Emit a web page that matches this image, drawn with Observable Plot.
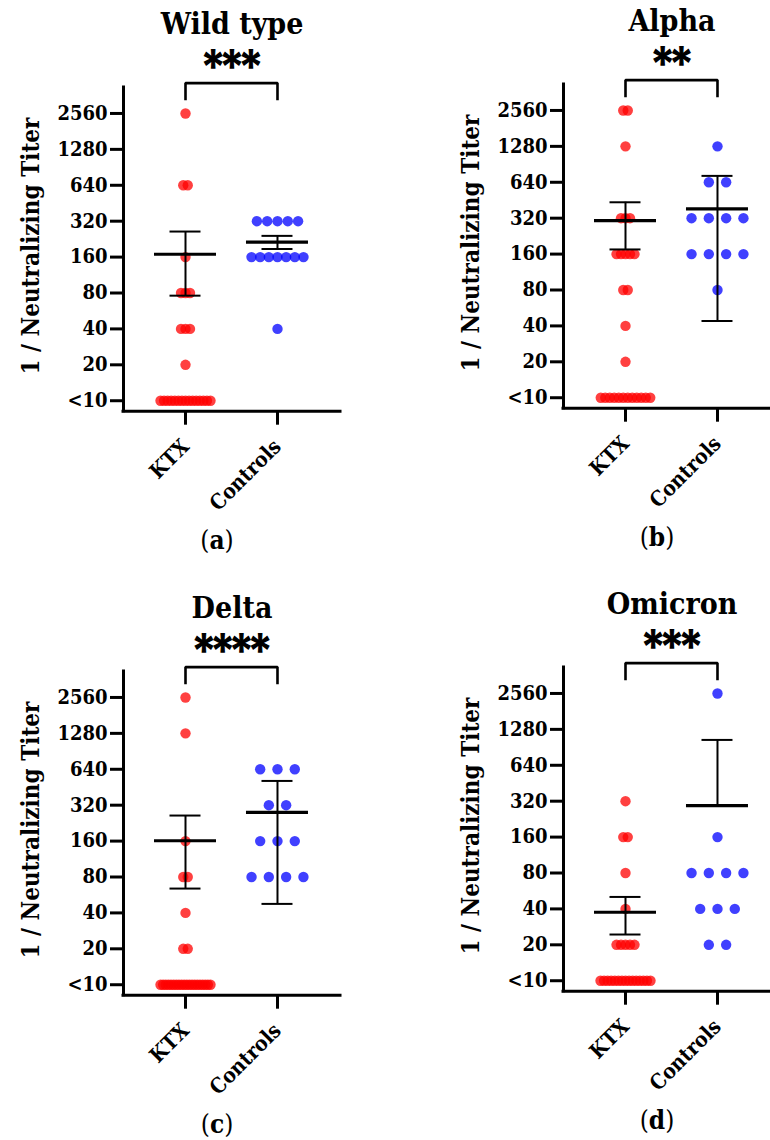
<!DOCTYPE html>
<html>
<head>
<meta charset="utf-8">
<script src="https://cdn.jsdelivr.net/npm/d3@7"></script>
<script src="https://cdn.jsdelivr.net/npm/@observablehq/plot@0.6"></script>
<style>
  html, body { margin: 0; padding: 0; background: #fff; }
  #root { position: relative; width: 770px; height: 1140px; overflow: hidden; background: #fff; color: #000;
          font-family: "DejaVu Serif Condensed", "DejaVu Serif", serif; }
  .panel { position: absolute; width: 385px; height: 560px; }
  .panel svg { position: absolute; left: 0; top: 60px; overflow: visible; }
  .title { position: absolute; left: 232px; top: 9px; transform: translateX(-50%); font-weight: bold;
           font-size: 30px; line-height: 1; white-space: nowrap; }
  .stars { position: absolute; left: 232px; top: 45px; transform: translateX(-50%); font-weight: bold;
           font-size: 40px; line-height: 1; white-space: nowrap; -webkit-text-stroke: 1.3px #000; }
  .ylabel { position: absolute; left: 31px; top: 246px; transform: translate(-50%, -50%) rotate(-90deg);
            font-weight: bold; font-size: 24px; line-height: 1; white-space: nowrap; }
  .letter { position: absolute; left: 217px; top: 540px; transform: translate(-50%, -50%);
            font-size: 26px; line-height: 1; white-space: nowrap; }
  .letter b { font-weight: bold; }
</style>
</head>
<body>
<div id="root"></div>
<script>
// ---------------- data ----------------
const variants = ["Wild type", "Alpha", "Delta", "Omicron"];
const significance = ["***", "**", "****", "***"];
const panelLetters = ["a", "b", "c", "d"];
const groups = ["KTX", "Controls"];
const titerLevels = [10, 20, 40, 80, 160, 320, 640, 1280, 2560];
const titerLabels = ["<10", "20", "40", "80", "160", "320", "640", "1280", "2560"];

// number of subjects at each titer level (same order as titerLevels)
const ktxCountsWild     = [15, 1, 3, 3, 1, 0, 2, 0, 1];
const ctrlCountsWild    = [0, 0, 1, 0, 7, 5, 0, 0, 0];
const ktxCountsAlpha    = [12, 1, 1, 2, 5, 3, 0, 1, 2];
const ctrlCountsAlpha   = [0, 0, 0, 1, 4, 4, 2, 1, 0];
const ktxCountsDelta    = [20, 2, 1, 2, 1, 0, 0, 1, 1];
const ctrlCountsDelta   = [0, 0, 0, 4, 3, 2, 3, 0, 0];
const ktxCountsOmicron  = [15, 5, 1, 1, 2, 1, 0, 0, 0];
const ctrlCountsOmicron = [0, 2, 3, 4, 1, 0, 0, 0, 1];

// mean and error-bar ends as drawn (Wild type, Alpha, Delta, Omicron)
const ktxMean  = [169, 305, 161, 37.5];
const ktxLow   = [76, 175, 64, 24.4];
const ktxHigh  = [262, 435, 262, 50.4];
const ctrlMean = [214, 383, 279, 294];
const ctrlLow  = [187, 44, 47.6, null];
const ctrlHigh = [241, 724, 511, 1044];

// significance bracket (in titer units)
const bracketTop = 4600;
const bracketFoot = 3300;

// ---------------- layout ----------------
const FONT = '"DejaVu Serif Condensed", "DejaVu Serif", serif';
const panelLeft = [0, 440, 0, 440];
const panelTop = [0, -3, 584.3, 580.3];
const W = 385, H = 460, ML = 123, MR = 45, MT = 27, MB = 460 - (410.7 - 60);
const xDomain = [-0.674, 1.685];
const yDomain = [8.17, 4225];
const pxPerUnit = (W - ML - MR) / (xDomain[1] - xDomain[0]);
const ctrlStepMax = [10.3, 17.3, 17.3, 17.3];
const ktxStepMax = 4.5;
const ktxSpan = 50, ctrlSpan = 52;
const RED = "#ff0000", BLUE = "#0000ff";

const ktxCounts = [ktxCountsWild, ktxCountsAlpha, ktxCountsDelta, ktxCountsOmicron];
const ctrlCounts = [ctrlCountsWild, ctrlCountsAlpha, ctrlCountsDelta, ctrlCountsOmicron];

function spread(n, stepMax, span) {
  const step = n > 1 ? Math.min(stepMax, span / (n - 1)) : 0;
  return d3.range(n).map(i => (i - (n - 1) / 2) * step);
}

const root = document.getElementById("root");

for (let p = 0; p < 4; p++) {
  const rows = [];
  [[ktxCounts[p], 0, ktxStepMax, ktxSpan], [ctrlCounts[p], 1, ctrlStepMax[p], ctrlSpan]].forEach(([counts, g, stepMax, span]) => {
    counts.forEach((n, li) => {
      spread(n, stepMax, span).forEach(off => rows.push({g, value: titerLevels[li], off}));
    });
  });
  const stats = [
    {g: 0, mean: ktxMean[p], low: ktxLow[p], high: ktxHigh[p]},
    {g: 1, mean: ctrlMean[p], low: ctrlLow[p], high: ctrlHigh[p]}
  ];
  const bracket = [
    {x: 0, y: bracketFoot}, {x: 0, y: bracketTop}, {x: 1, y: bracketTop}, {x: 1, y: bracketFoot}
  ];
  const halfMean = 31 / pxPerUnit, halfCap = 15.5 / pxPerUnit;

  const chart = Plot.plot({
    width: W, height: H,
    marginLeft: ML, marginRight: MR, marginTop: MT, marginBottom: MB,
    style: {fontFamily: FONT, fontWeight: "bold", background: "none", color: "#000", overflow: "visible"},
    x: {type: "linear", domain: xDomain},
    y: {type: "log", base: 2, domain: yDomain},
    marks: [
      Plot.dot(rows, {
        x: d => d.g + d.off / pxPerUnit, y: "value", r: 5.2,
        fill: d => d.g === 0 ? RED : BLUE, fillOpacity: 0.75, stroke: "none"
      }),
      Plot.ruleX(stats, {x: "g", y1: d => d.low ?? d.mean, y2: "high", stroke: "#000", strokeWidth: 2}),
      Plot.ruleY(stats.filter(d => d.low != null), {y: "low", x1: d => d.g - halfCap, x2: d => d.g + halfCap, stroke: "#000", strokeWidth: 2}),
      Plot.ruleY(stats, {y: "high", x1: d => d.g - halfCap, x2: d => d.g + halfCap, stroke: "#000", strokeWidth: 2}),
      Plot.ruleY(stats, {y: "mean", x1: d => d.g - halfMean, x2: d => d.g + halfMean, stroke: "#000", strokeWidth: 3.2}),
      Plot.line(bracket, {x: "x", y: "y", stroke: "#000", strokeWidth: 2.6, strokeLinejoin: "miter", strokeLinecap: "butt"}),
      Plot.ruleX([xDomain[0]], {y1: yDomain[0], y2: yDomain[1], stroke: "#000", strokeWidth: 3, strokeLinecap: "square"}),
      Plot.ruleY([yDomain[0]], {stroke: "#000", strokeWidth: 3, strokeLinecap: "square"}),
      Plot.axisY(titerLevels, {
        tickSize: 13, tickPadding: 3, strokeWidth: 3, label: null,
        tickFormat: d => titerLabels[titerLevels.indexOf(d)],
        fontSize: 20, fontWeight: "bold", fill: "#000", stroke: "#000"
      }),
      Plot.axisX([0, 1], {
        tickSize: 14, tickPadding: 18, strokeWidth: 3, label: null, tickRotate: -45,
        tickFormat: d => groups[d],
        fontSize: 21, fontWeight: "bold", fill: "#000", stroke: "#000"
      })
    ]
  });

  const panel = document.createElement("div");
  panel.className = "panel";
  panel.style.left = panelLeft[p] + "px";
  panel.style.top = panelTop[p] + "px";
  panel.innerHTML = `<div class="title">${variants[p]}</div>
    <div class="stars">${significance[p]}</div>
    <div class="ylabel">1 / Neutralizing Titer</div>
    <div class="letter">(<b>${panelLetters[p]}</b>)</div>`;
  panel.appendChild(chart);
  root.appendChild(panel);
}
</script>
</body>
</html>
